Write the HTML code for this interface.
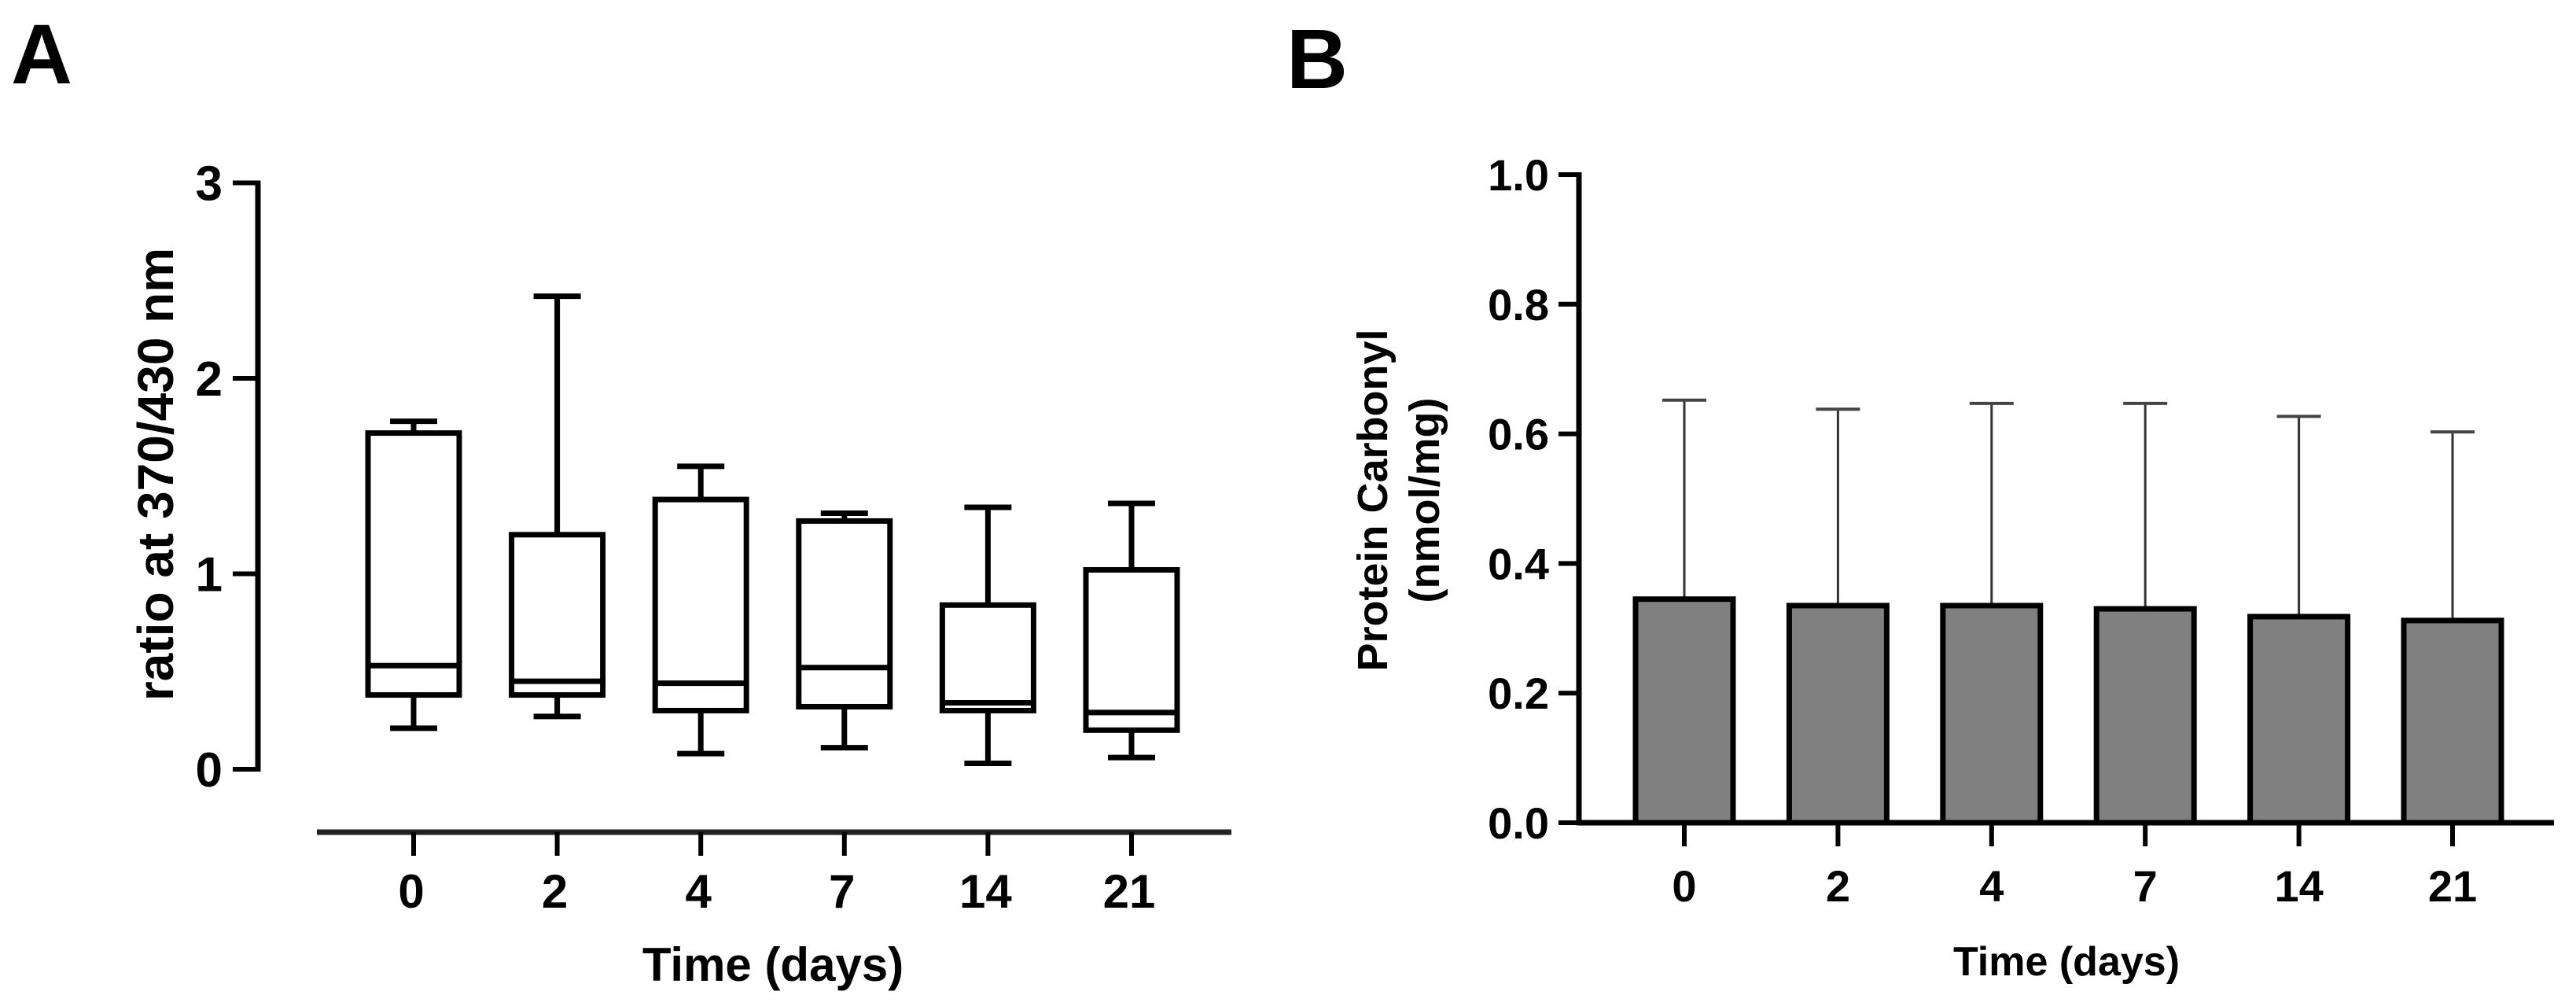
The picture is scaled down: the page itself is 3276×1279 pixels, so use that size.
<!DOCTYPE html>
<html><head><meta charset="utf-8"><style>
html,body{margin:0;padding:0;background:#fff;}
svg{display:block;font-family:"Liberation Sans",Arial,sans-serif;font-weight:bold;}
</style></head><body>
<svg id="fig" width="3276" height="1279" viewBox="0 0 3276 1279" xmlns="http://www.w3.org/2000/svg">
<text x="14" y="106" font-size="108">A</text>
<text x="1636" y="112" font-size="108">B</text>
<g id="A"></g>
<g id="B"></g>
</svg>
<script>
const NS="http://www.w3.org/2000/svg";
// Panel A data
const catsA=["0","2","4","7","14","21"];
const whiskLo=[0.21,0.27,0.08,0.11,0.03,0.06];
const q1=[0.38,0.38,0.30,0.32,0.30,0.20];
const med=[0.53,0.45,0.44,0.52,0.34,0.29];
const q3=[1.72,1.20,1.38,1.27,0.84,1.02];
const whiskHi=[1.78,2.42,1.55,1.31,1.34,1.36];
const ticksA=[0,1,2,3];
// Panel B data
const catsB=["0","2","4","7","14","21"];
const means=[0.345,0.335,0.335,0.330,0.318,0.312];
const errHi=[0.652,0.638,0.647,0.647,0.627,0.603];
const ticksB=["0.0","0.2","0.4","0.6","0.8","1.0"];

function mk(p,tag,a,txt){const e=document.createElementNS(NS,tag);for(const k in a)e.setAttribute(k,a[k]);if(txt!==undefined)e.textContent=txt;p.appendChild(e);return e;}

// ---- Panel A
const gA=document.getElementById('A');
const yA=v=>978-v*248.5;
const xA=i=>526+i*182.6;
let e;
e=mk(gA,'line',{x1:328,y1:yA(3)-3,x2:328,y2:yA(0)+3,stroke:'#000','stroke-width':7});

ticksA.forEach(t=>{
 e=mk(gA,'line',{x1:296,y1:yA(t),x2:328,y2:yA(t),stroke:'#000','stroke-width':6});
 
 e=mk(gA,'text',{x:283,y:yA(t)+22,'font-size':62,'text-anchor':'end'},String(t));
 
});
e=mk(gA,'line',{x1:403,y1:1058,x2:1566,y2:1058,stroke:'#222','stroke-width':7});

catsA.forEach((c,i)=>{
 const x=xA(i);
 e=mk(gA,'line',{x1:x,y1:1058,x2:x,y2:1088,stroke:'#000','stroke-width':6});
 
 e=mk(gA,'text',{x:x-3,y:1154,'font-size':60,'text-anchor':'middle'},c);
 
 const g=mk(gA,'g',{stroke:'#000','stroke-width':7,fill:'none'});
 
 mk(g,'line',{x1:x,y1:yA(whiskHi[i]),x2:x,y2:yA(q3[i])});
 mk(g,'line',{x1:x,y1:yA(q1[i]),x2:x,y2:yA(whiskLo[i])});
 mk(g,'line',{x1:x-30,y1:yA(whiskHi[i]),x2:x+30,y2:yA(whiskHi[i])});
 mk(g,'line',{x1:x-30,y1:yA(whiskLo[i]),x2:x+30,y2:yA(whiskLo[i])});
 mk(g,'rect',{x:x-58,y:yA(q3[i]),width:116,height:yA(q1[i])-yA(q3[i]),fill:'#fff'});
 mk(g,'line',{x1:x-58,y1:yA(med[i]),x2:x+58,y2:yA(med[i])});
});
e=mk(gA,'text',{x:983,y:1247,'font-size':60,'text-anchor':'middle'},'Time (days)');

e=mk(gA,'text',{x:0,y:0,'font-size':64,'text-anchor':'middle',transform:'translate(220,603) rotate(-90)'},'ratio at 370/430 nm');


// ---- Panel B
const gB=document.getElementById('B');
const yB=v=>1046-v*824;
const xB=i=>2142+i*195.4;
catsB.forEach((c,i)=>{
 const x=xB(i);
 e=mk(gB,'line',{x1:x,y1:yB(errHi[i]),x2:x,y2:yB(means[i]),stroke:'#333','stroke-width':3});
 
 e=mk(gB,'line',{x1:x-28,y1:yB(errHi[i]),x2:x+28,y2:yB(errHi[i]),stroke:'#444','stroke-width':4});
 
 e=mk(gB,'rect',{x:x-62,y:yB(means[i]),width:124,height:yB(0)-yB(means[i]),fill:'#808080',stroke:'#000','stroke-width':7});
 
 e=mk(gB,'line',{x1:x,y1:1046,x2:x,y2:1076,stroke:'#000','stroke-width':6});
 
 e=mk(gB,'text',{x:x,y:1146,'font-size':56,'text-anchor':'middle'},c);
 
});
e=mk(gB,'line',{x1:2008,y1:yB(1)-3,x2:2008,y2:1049,stroke:'#000','stroke-width':7});

e=mk(gB,'line',{x1:2005,y1:1046,x2:3248,y2:1046,stroke:'#000','stroke-width':7});

ticksB.forEach(t=>{
 const v=parseFloat(t);
 e=mk(gB,'line',{x1:1982,y1:yB(v),x2:2008,y2:yB(v),stroke:'#000','stroke-width':6});
 
 e=mk(gB,'text',{x:1970,y:yB(v)+20,'font-size':56,'text-anchor':'end'},t);
 
});
e=mk(gB,'text',{x:2628,y:1240,'font-size':52,'text-anchor':'middle'},'Time (days)');

e=mk(gB,'text',{x:0,y:0,'font-size':54,'text-anchor':'middle',transform:'translate(1764,636) rotate(-90)'},'Protein Carbonyl');

e=mk(gB,'text',{x:0,y:0,'font-size':54,'text-anchor':'middle',transform:'translate(1830,636) rotate(-90)'},'(nmol/mg)');

</script>
</body></html>
